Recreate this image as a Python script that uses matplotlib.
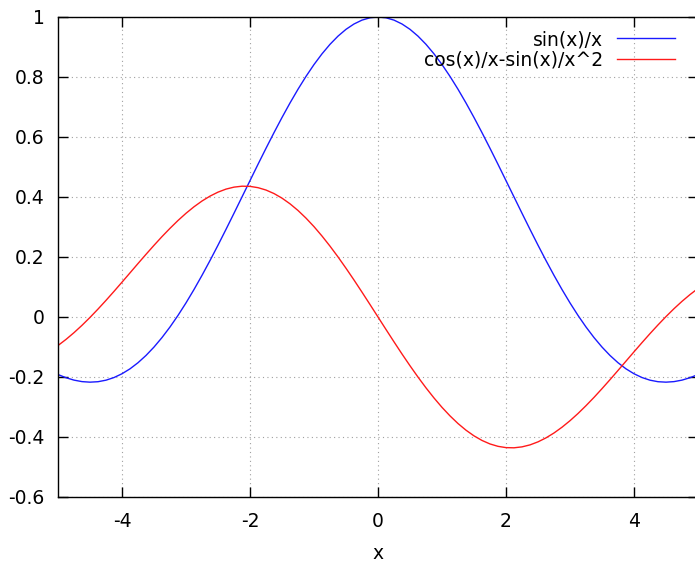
import matplotlib
matplotlib.use("Agg")
import matplotlib.pyplot as plt

# sample points (step 0.125)
x_vals = [-5.0, -4.875, -4.75, -4.625, -4.5, -4.375, -4.25, -4.125,
          -4.0, -3.875, -3.75, -3.625, -3.5, -3.375, -3.25, -3.125,
          -3.0, -2.875, -2.75, -2.625, -2.5, -2.375, -2.25, -2.125,
          -2.0, -1.875, -1.75, -1.625, -1.5, -1.375, -1.25, -1.125,
          -1.0, -0.875, -0.75, -0.625, -0.5, -0.375, -0.25, -0.125,
          0.0,
          0.125, 0.25, 0.375, 0.5, 0.625, 0.75, 0.875, 1.0,
          1.125, 1.25, 1.375, 1.5, 1.625, 1.75, 1.875, 2.0,
          2.125, 2.25, 2.375, 2.5, 2.625, 2.75, 2.875, 3.0,
          3.125, 3.25, 3.375, 3.5, 3.625, 3.75, 3.875, 4.0,
          4.125, 4.25, 4.375, 4.5, 4.625, 4.75, 4.875, 5.0]

sinc_vals = [-0.1918, -0.2024, -0.2104, -0.2154, -0.2172, -0.2157, -0.2106, -0.2018,
             -0.1892, -0.1728, -0.1524, -0.1282, -0.1002, -0.0685, -0.0333, 0.0053,
             0.0470, 0.0916, 0.1388, 0.1882, 0.2394, 0.2921, 0.3458, 0.4002,
             0.4546, 0.5089, 0.5623, 0.6145, 0.6650, 0.7134, 0.7592, 0.8020,
             0.8415, 0.8772, 0.9089, 0.9362, 0.9589, 0.9767, 0.9896, 0.9974,
             1.0,
             0.9974, 0.9896, 0.9767, 0.9589, 0.9362, 0.9089, 0.8772, 0.8415,
             0.8020, 0.7592, 0.7134, 0.6650, 0.6145, 0.5623, 0.5089, 0.4546,
             0.4002, 0.3458, 0.2921, 0.2394, 0.1882, 0.1388, 0.0916, 0.0470,
             0.0053, -0.0333, -0.0685, -0.1002, -0.1282, -0.1524, -0.1728, -0.1892,
             -0.2018, -0.2106, -0.2157, -0.2172, -0.2154, -0.2104, -0.2024, -0.1918]

deriv_vals = [-0.0951, -0.0747, -0.0522, -0.0277, -0.0014, 0.0264, 0.0554, 0.0854,
              0.1161, 0.1471, 0.1782, 0.2089, 0.2389, 0.2680, 0.2956, 0.3217,
              0.3457, 0.3674, 0.3866, 0.4029, 0.4162, 0.4263, 0.4329, 0.4360,
              0.4354, 0.4311, 0.4232, 0.4115, 0.3962, 0.3773, 0.3551, 0.3296,
              0.3012, 0.2699, 0.2362, 0.2003, 0.1625, 0.1233, 0.0828, 0.0416,
              0.0,
              -0.0416, -0.0828, -0.1233, -0.1625, -0.2003, -0.2362, -0.2699, -0.3012,
              -0.3296, -0.3551, -0.3773, -0.3962, -0.4115, -0.4232, -0.4311, -0.4354,
              -0.4360, -0.4329, -0.4263, -0.4162, -0.4029, -0.3866, -0.3674, -0.3457,
              -0.3217, -0.2956, -0.2680, -0.2389, -0.2089, -0.1782, -0.1471, -0.1161,
              -0.0854, -0.0554, -0.0264, 0.0014, 0.0277, 0.0522, 0.0747, 0.0951]

x_ticks = [-4, -2, 0, 2, 4]
y_ticks = [-0.6, -0.4, -0.2, 0, 0.2, 0.4, 0.6, 0.8, 1]
y_labels = ["-0.6", "-0.4", "-0.2", "0", "0.2", "0.4", "0.6", "0.8", "1"]

plt.rcParams['font.family'] = ['DejaVu Sans']

fig = plt.figure(figsize=(6.95, 5.67), dpi=100)
ax = fig.add_axes([58 / 695, 70 / 567, 640 / 695, 480 / 567])

ax.plot(x_vals, sinc_vals, color='#1a1aff', lw=1.0, label='sin(x)/x')
ax.plot(x_vals, deriv_vals, color='#ff1a1a', lw=1.0, label='cos(x)/x-sin(x)/x^2')

ax.set_xlim(-5, 5)
ax.set_ylim(-0.6, 1)
ax.set_xticks(x_ticks)
ax.set_xticklabels([str(t) for t in x_ticks])
ax.set_yticks(y_ticks)
ax.set_yticklabels(y_labels)
ax.tick_params(direction='in', length=7, width=1, labelsize=13.5, top=True, right=True, pad=9.5)
ax.tick_params(axis='x', pad=11)
ax.grid(True, color='#a0a0a0', linestyle=(0, (1, 3)), linewidth=0.8)
for s in ax.spines.values():
    s.set_linewidth(1)
ax.set_xlabel('x', fontsize=13.5, labelpad=9)

ax.legend(loc='upper right', bbox_to_anchor=(0.99, 1.008), frameon=False, markerfirst=False,
          fontsize=13.5, handlelength=3.1, labelspacing=0.1, handletextpad=0.7)

fig.savefig('out.png', dpi=100)
